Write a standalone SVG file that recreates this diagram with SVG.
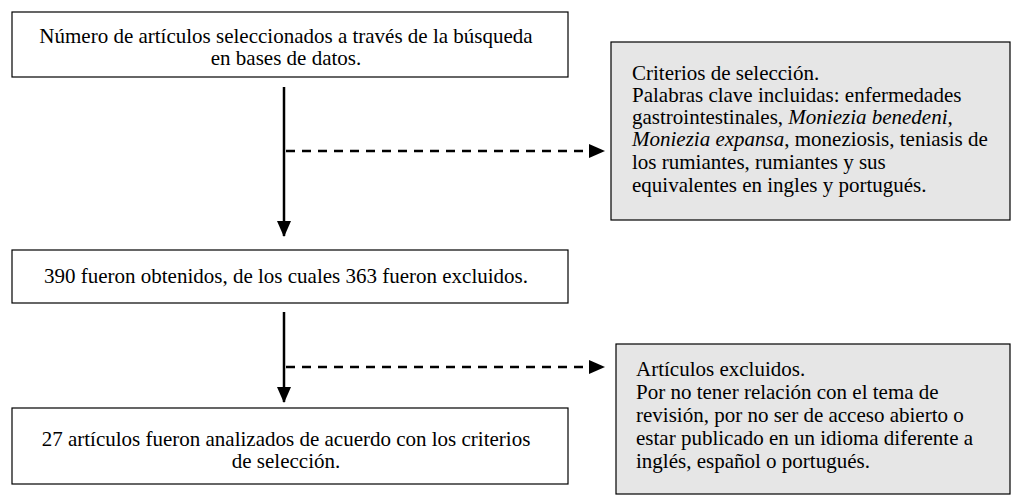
<svg xmlns="http://www.w3.org/2000/svg" width="1011" height="502" viewBox="0 0 1011 502">
<style>
.box{fill:#fff;stroke:#000;stroke-width:1.2}
.gbox{fill:#e6e6e6;stroke:#000;stroke-width:1.2}
text{font-family:"Liberation Serif","Times New Roman",serif;font-size:21px;fill:#000}
.c{text-anchor:middle}
.solid{stroke:#000;stroke-width:2.5;fill:none}
.dash{stroke:#000;stroke-width:2.5;fill:none;stroke-dasharray:9,7}
</style>
<defs>
<marker id="ah2" markerWidth="16" markerHeight="16" refX="15" refY="8" orient="auto" markerUnits="userSpaceOnUse" viewBox="0 0 16 16">
<path d="M0,1 L16,8 L0,15 z" fill="#000"/>
</marker>
</defs>
<g id="connectors">
<line class="solid" x1="284" y1="87" x2="284" y2="236" marker-end="url(#ah2)"/>
<line class="dash" x1="286" y1="151" x2="604" y2="151" marker-end="url(#ah2)"/>
<line class="solid" x1="284" y1="312" x2="284" y2="402" marker-end="url(#ah2)"/>
<line class="dash" x1="286" y1="367" x2="604" y2="367" marker-end="url(#ah2)"/>
</g>
<g id="n1">
<rect class="box" x="12" y="12" width="556" height="65"/>
<text class="c" x="286" y="43">Número de artículos seleccionados a través de la búsqueda</text>
<text class="c" x="286" y="65">en bases de datos.</text>
</g>
<g id="n2">
<rect class="gbox" x="611" y="42" width="399" height="178"/>
<text x="632" y="80">Criterios de selección.</text>
<text x="632" y="102">Palabras clave incluidas: enfermedades</text>
<text x="632" y="124">gastrointestinales, <tspan font-style="italic">Moniezia benedeni,</tspan></text>
<text x="632" y="146"><tspan font-style="italic">Moniezia expansa</tspan>, moneziosis, teniasis de</text>
<text x="632" y="169">los rumiantes, rumiantes y sus</text>
<text x="632" y="192">equivalentes en ingles y portugués.</text>
</g>
<g id="n3">
<rect class="box" x="12" y="250" width="556" height="53"/>
<text class="c" x="286" y="283">390 fueron obtenidos, de los cuales 363 fueron excluidos.</text>
</g>
<g id="n4">
<rect class="gbox" x="616" y="344" width="394" height="150"/>
<text x="636" y="376">Artículos excluidos.</text>
<text x="636" y="399">Por no tener relación con el tema de</text>
<text x="636" y="422">revisión, por no ser de acceso abierto o</text>
<text x="636" y="445">estar publicado en un idioma diferente a</text>
<text x="636" y="468">inglés, español o portugués.</text>
</g>
<g id="n5">
<rect class="box" x="12" y="408" width="556" height="76"/>
<text class="c" x="286" y="446">27 artículos fueron analizados de acuerdo con los criterios</text>
<text class="c" x="286" y="468">de selección.</text>
</g>
</svg>
